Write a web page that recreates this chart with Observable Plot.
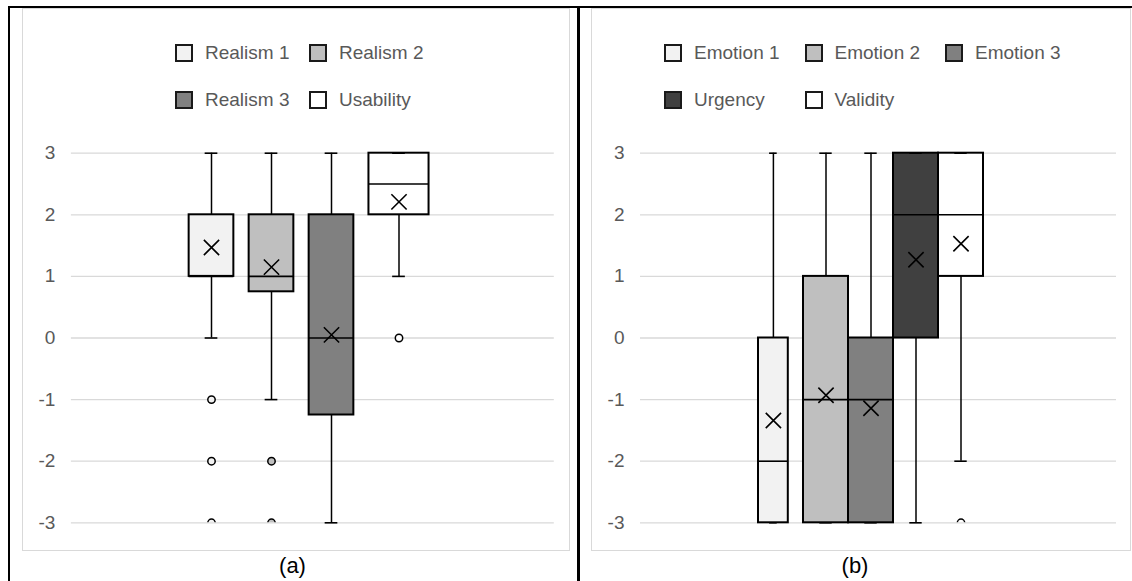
<!DOCTYPE html>
<html><head><meta charset="utf-8">
<script src="https://cdn.jsdelivr.net/npm/d3@7"></script>
<script src="https://cdn.jsdelivr.net/npm/@observablehq/plot@0.6"></script>
<style>
body{margin:0;background:#fff;font-family:"Liberation Sans",Arial,sans-serif;}
#root{position:relative;width:1132px;height:581px;overflow:hidden;background:#fff}
.blk{position:absolute;background:#000}
.area{position:absolute;box-sizing:border-box;border:1px solid #d9d9d9}
.legend{position:absolute;display:grid;row-gap:28px}
.item{display:flex;align-items:center;height:19px;font-size:19px;line-height:19px;color:#595959;white-space:nowrap}
.sw{width:18px;height:18px;box-sizing:border-box;border:2px solid #1a1a1a;margin-right:12px;flex:none}
.lab{position:absolute;font-size:22px;line-height:26px;color:#000;transform:translateX(-50%)}
.plot{position:absolute}
</style></head><body><div id="root"></div><script>
// ---- data: panel (a)
const seriesA = ["Realism 1","Realism 2","Realism 3","Usability"];
const minA = [0,-1,-3,1];
const q1A = [1,0.75,-1.25,2];
const medA = [1,1,0,2.5];
const q3A = [2,2,2,3];
const maxA = [3,3,3,3];
const meanA = [1.47,1.15,0.05,2.21];
const outliersA = [[-1,-2,-3],[-2,-3],[],[0]];
// ---- data: panel (b)
const seriesB = ["Emotion 1","Emotion 2","Emotion 3","Urgency","Validity"];
const minB = [-3,-3,-3,-3,-2];
const q1B = [-3,-3,-3,0,1];
const medB = [-2,-1,-1,2,2];
const q3B = [0,1,0,3,3];
const maxB = [3,3,3,3,3];
const meanB = [-1.34,-0.93,-1.14,1.27,1.53];
const outliersB = [[],[],[],[],[-3]];
// ---- colours / ticks / labels
const fillsA = ["#f2f2f2","#bfbfbf","#808080","#ffffff"];
const fillsB = ["#f2f2f2","#bfbfbf","#808080","#404040","#ffffff"];
const yDomain = [-3,3];
const panelLabels = ["(a)","(b)"];

const root = document.getElementById("root");
function el(cls, css, html){const d=document.createElement("div");d.className=cls;Object.assign(d.style,css);if(html!=null)d.innerHTML=html;root.appendChild(d);return d;}

// frame lines
el("blk",{left:"8px",top:"6px",width:"1124px",height:"2px"});
el("blk",{left:"8px",top:"6px",width:"2px",height:"575px"});
el("blk",{left:"577px",top:"6px",width:"2.5px",height:"575px"});

let clipId = 0;
function panel(cfg){
  el("area",{left:cfg.areaLeft+"px",top:"8px",width:cfg.areaWidth+"px",height:"543px"});
  // legend
  const lg = el("legend",{left:cfg.legLeft+"px",top:"43px",gridTemplateColumns:`repeat(${cfg.cols}, ${cfg.colW}px)`});
  cfg.series.forEach((s,i)=>{
    const it=document.createElement("div");it.className="item";
    const sw=document.createElement("span");sw.className="sw";sw.style.background=cfg.fills[i];
    it.appendChild(sw);it.appendChild(document.createTextNode(s));lg.appendChild(it);
  });
  el("lab",{left:cfg.labX+"px",top:"553px"},cfg.label);

  const rows = cfg.series.map((s,i)=>({s,min:cfg.min[i],q1:cfg.q1[i],med:cfg.med[i],q3:cfg.q3[i],max:cfg.max[i],mean:cfg.mean[i]}));
  const marks = [Plot.ruleY(d3.range(yDomain[0],yDomain[1]+1),{stroke:"#d9d9d9",strokeWidth:1.3})];
  rows.forEach((r,i)=>{
    const st = cfg.st(r.s);
    marks.push(Plot.ruleX([r],{x:"s",y1:"min",y2:"max",stroke:"#000",strokeWidth:1.5,dx:st.dx}));
    marks.push(Plot.barY([r],{x:"s",y1:"q1",y2:"q3",fill:"s",stroke:"#000",strokeWidth:2,insetLeft:st.iL,insetRight:st.iR}));
    marks.push(Plot.tickY([r],{x:"s",y:"med",stroke:"#000",strokeWidth:1.6,insetLeft:st.iL,insetRight:st.iR}));
    marks.push(Plot.tickY([{s:r.s,v:r.min},{s:r.s,v:r.max}],{x:"s",y:"v",stroke:"#000",strokeWidth:1.6,insetLeft:st.cap,insetRight:st.cap,dx:st.dx}));
    marks.push(Plot.dot([r],{x:"s",y:"mean",symbol:"times",r:7,stroke:"#000",strokeWidth:1.6,fill:"none",dx:st.dx}));
    const outs = cfg.outliers[i].map(v=>({s:r.s,v}));
    if(outs.length) marks.push(Plot.dot(outs,{x:"s",y:"v",r:3.7,fill:"s",stroke:"#000",strokeWidth:1.5,dx:st.dx,clip:true}));
  });
  const H = 420, mT = 22.7, mB = 27.7;
  const svg = Plot.plot({
    width: cfg.areaWidth, height: H,
    marginLeft: cfg.mL, marginRight: cfg.mR, marginTop: mT, marginBottom: mB,
    x: {type:"band", domain: cfg.series, range: cfg.xRange, padding: 0, axis: null},
    y: {domain: yDomain, range: [H - mB, mT], ticks: 6, tickSize: 0, tickPadding: 16, tickFormat: d=>String(d), label: null},
    color: {domain: cfg.series, range: cfg.fills},
    style: {fontFamily:"Liberation Sans, Arial, sans-serif", fontSize:"19px", color:"#595959", background:"transparent", overflow:"visible"},
    marks
  });
  // clip outlier circles to the plot frame (as in the original, where -3 points are cut in half)
  const ns = "http://www.w3.org/2000/svg";
  const id = "frameclip" + (clipId++);
  const cp = document.createElementNS(ns,"clipPath"); cp.setAttribute("id",id);
  const rc = document.createElementNS(ns,"rect");
  rc.setAttribute("x",0); rc.setAttribute("y",mT); rc.setAttribute("width",cfg.areaWidth); rc.setAttribute("height",H-mT-mB);
  cp.appendChild(rc);
  const defs = document.createElementNS(ns,"defs"); defs.appendChild(cp); svg.insertBefore(defs, svg.firstChild);
  svg.querySelectorAll("circle").forEach(c=>c.setAttribute("clip-path",`url(#${id})`));
  const wrap = el("plot",{left:cfg.areaLeft+"px",top:"130px"});
  wrap.appendChild(svg);
}

panel({
  series: seriesA, min:minA, q1:q1A, med:medA, q3:q3A, max:maxA, mean:meanA, outliers:outliersA, fills:fillsA,
  areaLeft:22, areaWidth:548, mL:48.9, mR:16.2, xRange:[158.75, 399.95],
  legLeft:175, cols:2, colW:134, labX:292.5, label:panelLabels[0],
  st: s => s==="Usability" ? {iL:7.45,iR:-7.55,dx:7.5,cap:23.65} : {iL:7.65,iR:7.65,dx:0,cap:23.65}
});
panel({
  series: seriesB, min:minB, q1:q1B, med:medB, q3:q3B, max:maxB, mean:meanB, outliers:outliersB, fills:fillsB,
  areaLeft:591, areaWidth:540, mL:49, mR:15, xRange:[166.2, 392.95],
  legLeft:664, cols:3, colW:140.5, labX:855, label:panelLabels[1],
  st: s => s==="Emotion 1" ? {iL:0,iR:15.2,dx:-7.6,cap:18.7} : {iL:0,iR:0,dx:0,cap:16.3}
});
</script></body></html>
